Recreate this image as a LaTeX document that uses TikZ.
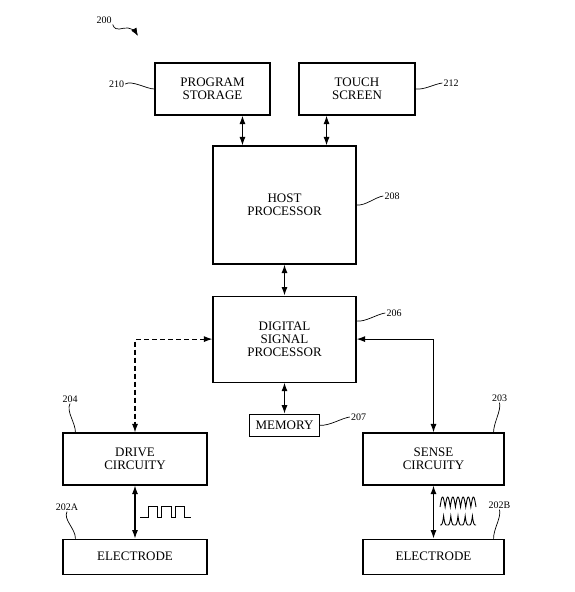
\documentclass[tikz,border=0pt]{standalone}
\usepackage{fontspec}
\setmainfont{Liberation Serif}
\usetikzlibrary{positioning, arrows.meta}

\begin{document}
\begin{tikzpicture}[
      x=1pt, y=-1pt,
      node distance = 31pt,
      box/.style  = {draw, line width=1.1pt, align=center, inner sep=2pt,
                     font=\fontsize{13pt}{12.7pt}\selectfont},
      ref/.style  = {font=\fontsize{10pt}{12pt}\selectfont, inner sep=1pt},
      lead/.style = {line width=0.7pt},
      arr/.style  = {{Latex[length=8.5pt,width=6pt]}-{Latex[length=8.5pt,width=6pt]}, line width=1.1pt},
      wave/.style = {line width=0.9pt}]
    \path[use as bounding box, fill=white] (0,0) rectangle (574,592);
    % middle column: host, dsp and its memory
    \node[box, minimum width=143pt, minimum height=118pt] (host) at (284.5,205) {HOST\\PROCESSOR};
    \node[box, minimum width=143pt, minimum height=86pt, below=of host] (dsp) {DIGITAL\\SIGNAL\\PROCESSOR};
    \node[box, minimum width=70pt, minimum height=22pt, below=of dsp] (mem) {MEMORY};
    % top row
    \node[box, minimum width=115pt, minimum height=52pt] (prog)  at (212.5,89) {PROGRAM\\STORAGE};
    \node[box, minimum width=116pt, minimum height=52pt] (touch) at (357,89)   {TOUCH\\SCREEN};
    % drive and sense sides with their electrodes
    \node[box, minimum width=144pt, minimum height=52pt] (drive) at (135,459)   {DRIVE\\CIRCUITY};
    \node[box, minimum width=144pt, minimum height=35pt, below=53pt of drive] (elecA) {ELECTRODE};
    \node[box, minimum width=141pt, minimum height=52pt] (sense) at (433.5,459) {SENSE\\CIRCUITY};
    \node[box, minimum width=141pt, minimum height=35pt, below=53pt of sense] (elecB) {ELECTRODE};
    \draw[arr] ([xshift=30pt]host.north west) -- ([xshift=30pt]host.north west |- prog.south);
    \draw[arr] ([xshift=-30pt]host.north east) -- ([xshift=-30pt]host.north east |- touch.south);
    \draw[arr] (host) -- (dsp);
    \draw[arr] (dsp) -- (mem);
    \draw[arr, dash pattern=on 5pt off 3pt] (dsp.west) -| (drive.north);
    \draw[arr] (dsp.east) -| (sense.north);
    \draw[arr] (drive) -- (elecA);
    \draw[arr] (sense) -- (elecB);
    % signal sketches beside the electrode links
    \draw[wave] (140,517) foreach \x in {148,161.5,175} { -- (\x,517) -- (\x,506) -- ++(9.5,0) -- ++(0,11) } -- (191,517);
    \draw[wave, domain=0:1260, samples=141] plot ({440+\x/35}, {507-10*abs(sin(\x))});
    \draw[wave, domain=90:990, samples=181] plot ({440+(\x-90)/25}, {525-9*(1-abs(sin(\x)))^2});
    % reference numerals
    \node[ref] (n200)  at (104,20)    {200};
    \coordinate (p200) at (138,36);
    \node[ref] (n210)  at (116.5,84)  {210};
    \node[ref] (n212)  at (451,83)    {212};
    \node[ref] (n208)  at (392,196)   {208};
    \node[ref] (n206)  at (394,313)   {206};
    \node[ref] (n207)  at (358.5,417) {207};
    \node[ref] (n204)  at (70,399)    {204};
    \node[ref] (n203)  at (499.5,398) {203};
    \node[ref] (n202a) at (67,507)    {202A};
    \node[ref] (n202b) at (499.5,505) {202B};
    \draw[lead, -{Latex[length=8pt,width=6pt]}] (n200.south east) .. controls (116,33) and (122,27) .. (128,28)
          .. controls (132,29) and (135,31) .. (p200);
    \draw[lead] (n210.east) .. controls +(7,-4) and +(-8,0) .. (prog.west);
    \draw[lead] (touch.east) .. controls +(9,1) and +(-8,1) .. (n212.west);
    \draw[lead] (host.east) .. controls +(9,1) and +(-8,1) .. (n208.west);
    \draw[lead] ([yshift=18pt]dsp.east) .. controls +(9,1) and +(-8,1) .. (n206.west);
    \draw[lead] (mem.east) .. controls +(9,1) and +(-8,1) .. (n207.west);
    \draw[lead] (n204.south) .. controls +(-4,8) and +(0,-10) .. ([xshift=13pt]drive.north west);
    \draw[lead] (n203.south) .. controls +(2,8) and +(0,-10) .. ([xshift=-11pt]sense.north east);
    \draw[lead] (n202a.south) .. controls +(-4,8) and +(0,-10) .. ([xshift=13pt]elecA.north west);
    \draw[lead] (n202b.south) .. controls +(2,8) and +(0,-10) .. ([xshift=-11pt]elecB.north east);
\end{tikzpicture}
\end{document}
